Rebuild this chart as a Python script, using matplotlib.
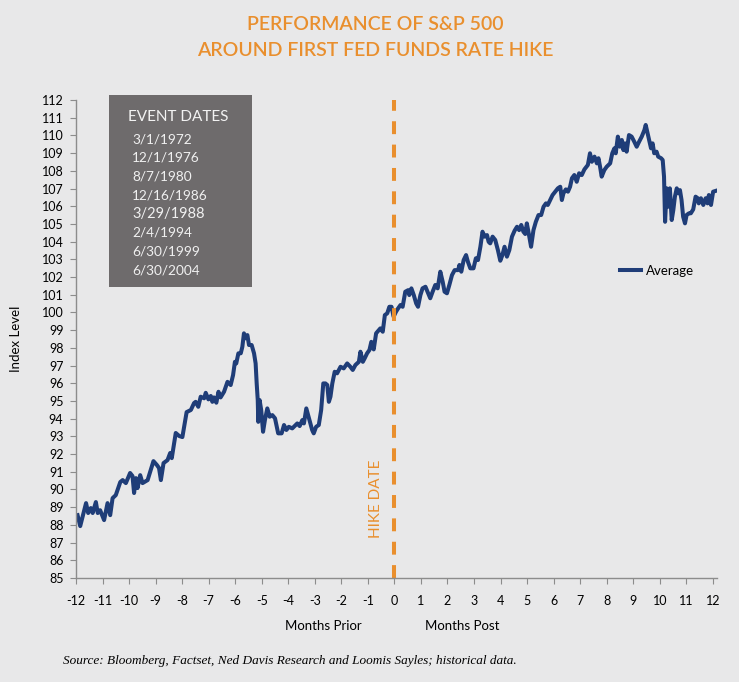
import matplotlib
matplotlib.use("Agg")
import matplotlib.pyplot as plt
from matplotlib.patches import Rectangle

plt.rcParams['font.family'] = ['Lato', 'DejaVu Sans']

# ---- data (months relative to first hike, index level) ----
months = [
    -11.94, -11.84, -11.62, -11.54, -11.44, -11.37, -11.25, -11.18, -11.09, -10.94,
    -10.81, -10.71, -10.62, -10.50, -10.33, -10.24, -10.12, -9.96, -9.87, -9.81,
    -9.74, -9.68, -9.58, -9.49, -9.30, -9.08, -8.95, -8.87, -8.80, -8.70,
    -8.55, -8.45, -8.39, -8.24, -8.11, -7.99, -7.83, -7.67, -7.55,
    -7.49, -7.39, -7.30, -7.17, -7.11, -7.01, -6.92, -6.86, -6.80, -6.71,
    -6.63, -6.55, -6.42, -6.29, -6.17, -6.08, -6.01, -5.96, -5.88, -5.79,
    -5.73, -5.67, -5.61, -5.54, -5.48, -5.38, -5.29, -5.23, -5.19, -5.15,
    -5.13, -5.08, -5.02, -4.95, -4.88, -4.79, -4.70, -4.60, -4.50, -4.38,
    -4.25, -4.16, -4.07, -3.98, -3.85, -3.72, -3.66, -3.57, -3.47, -3.41,
    -3.32, -3.22, -3.10, -3.04, -2.95, -2.85, -2.76, -2.68,
    -2.60, -2.53, -2.47, -2.41, -2.34, -2.25, -2.16, -2.03, -1.91, -1.78,
    -1.66, -1.57, -1.47, -1.34, -1.28, -1.19, -1.12, -1.03, -0.94, -0.87,
    -0.78, -0.69, -0.59, -0.53, -0.44, -0.36, -0.27, -0.19, -0.11, -0.03,
    0.06, 0.14, 0.23, 0.31, 0.41, 0.52, 0.56, 0.64, 0.73, 0.82,
    0.89, 0.98, 1.06, 1.17, 1.27, 1.35, 1.44, 1.54, 1.63, 1.73,
    1.82, 1.89, 1.98, 2.07, 2.17, 2.27,
    2.40, 2.45, 2.52, 2.61, 2.70, 2.77, 2.86, 2.98, 3.07, 3.15,
    3.24, 3.32, 3.40, 3.49, 3.55, 3.61, 3.70, 3.80, 3.90, 3.99,
    4.07, 4.15, 4.24, 4.33, 4.43, 4.53, 4.62, 4.70, 4.78, 4.86,
    4.93, 4.99, 5.05, 5.15, 5.24, 5.33, 5.43, 5.53, 5.62, 5.71,
    5.78, 5.87, 5.96, 6.06, 6.16, 6.25, 6.31, 6.37, 6.46, 6.54,
    6.62, 6.69, 6.78, 6.87, 6.96, 7.06, 7.16,
    7.29, 7.37, 7.44, 7.54, 7.63, 7.69, 7.75, 7.81, 7.91, 8.00,
    8.13, 8.21, 8.29, 8.34, 8.42, 8.50, 8.57, 8.63, 8.69, 8.75,
    8.84, 8.94, 9.04, 9.13, 9.22, 9.32, 9.42, 9.47, 9.54, 9.61,
    9.67, 9.73, 9.79, 9.88, 9.94, 10.05, 10.11, 10.16, 10.20, 10.26,
    10.32, 10.38, 10.45, 10.51, 10.57, 10.64, 10.70, 10.76, 10.82, 10.88,
    10.95, 11.01, 11.10, 11.17, 11.26, 11.35, 11.43, 11.47, 11.55, 11.64,
    11.73, 11.80, 11.85, 11.93, 12.01, 12.14,
]
average = [
    88.55, 87.93, 89.23, 88.67, 88.95, 88.67, 89.29, 88.67, 88.83, 88.27,
    89.23, 88.55, 89.51, 89.68, 90.42, 90.53, 90.36, 90.93, 90.76, 89.80,
    90.64, 90.08, 90.81, 90.36, 90.53, 91.60, 91.38, 91.21, 90.53, 91.49,
    91.66, 92.06, 91.77, 93.19, 93.02, 92.96, 94.37, 94.49, 94.88,
    94.95, 94.67, 95.24, 95.15, 95.46, 95.09, 95.28, 94.95, 95.20, 94.90,
    95.52, 95.20, 95.52, 96.08, 95.90, 96.46, 97.21, 97.12, 97.69, 97.69,
    98.06, 98.82, 98.54, 98.72, 98.16, 98.16, 97.69, 97.12, 95.99, 95.05,
    93.82, 95.05, 94.49, 93.26, 93.92, 94.58, 94.11, 94.20, 94.02, 93.17,
    93.17, 93.64, 93.36, 93.54, 93.45, 93.64, 93.73, 93.58, 93.92, 93.73,
    94.58, 94.02, 93.36, 93.17, 93.54, 93.64, 94.49, 95.99,
    95.99, 95.90, 94.95, 95.24, 95.99, 96.65, 96.56, 96.93, 96.84, 97.12,
    96.93, 96.75, 97.03, 97.21, 97.78, 97.21, 97.41, 97.69, 97.88, 98.34,
    97.91, 98.82, 99.00, 99.10, 98.91, 99.85, 99.95, 100.32, 100.32, 99.76,
    100.04, 100.23, 100.42, 100.32, 101.17, 101.26, 100.98, 101.36, 100.98, 100.51,
    100.32, 100.98, 101.36, 101.45, 101.08, 100.80, 101.17, 101.55, 101.36, 102.30,
    101.73, 101.17, 101.08, 101.55, 102.11, 102.39,
    102.39, 102.68, 102.30, 102.96, 103.24, 102.86, 102.49, 102.49, 103.06, 102.96,
    103.71, 104.56, 104.28, 104.37, 103.99, 103.90, 104.28, 104.09, 103.52, 102.92,
    103.24, 103.71, 103.15, 103.52, 104.28, 104.62, 104.84, 104.65, 104.94, 104.56,
    104.43, 105.03, 104.56, 103.71, 104.65, 105.12, 105.50, 105.50, 105.97, 106.16,
    106.07, 106.35, 106.63, 106.82, 107.01, 107.10, 106.35, 106.73, 106.95, 106.82,
    107.10, 107.58, 107.76, 107.38, 107.86, 107.76, 108.08,
    108.33, 108.99, 108.51, 108.80, 108.42, 108.71, 108.23, 107.67, 108.04, 108.23,
    108.42, 108.99, 109.27, 108.99, 109.93, 109.36, 109.74, 109.17, 109.55, 109.08,
    110.02, 109.93, 109.64, 109.36, 109.64, 109.93, 110.30, 110.59, 110.12, 109.64,
    109.27, 109.55, 108.99, 109.08, 108.80, 108.71, 108.61, 107.67, 105.12, 107.01,
    105.97, 107.01, 105.22, 105.78, 106.54, 107.01, 106.73, 106.91, 106.35, 105.41,
    105.03, 105.50, 105.60, 105.60, 105.82, 106.54, 106.45, 106.16, 106.45, 106.07,
    106.45, 106.16, 106.63, 106.07, 106.82, 106.88,
]

x_ticks = list(range(-12, 13))
y_ticks = list(range(85, 113))
event_dates = ["3/1/1972", "12/1/1976", "8/7/1980", "12/16/1986",
               "3/29/1988", "2/4/1994", "6/30/1999", "6/30/2004"]
hike_month = 0

BG = "#e8e8e9"
NAVY = "#1f3d78"
ORANGE = "#e98f2e"
GRAYBOX = "#6e6b6c"
SPINE = "#8c8c8c"

fig = plt.figure(figsize=(7.39, 6.82), dpi=100, facecolor=BG)
ax = fig.add_axes([0.1028, 0.1525, 0.8672, 0.7009])
ax.set_facecolor(BG)

ax.plot(months, average, color=NAVY, lw=2.9, solid_joinstyle='round', label="Average")
ax.axvline(hike_month, color=ORANGE, lw=2.9, dashes=(3.2, 2.6))

ax.set_xlim(-12, 12.15)
ax.set_ylim(85, 112)
ax.set_xticks(x_ticks)
ax.set_xticklabels([str(t) for t in x_ticks])
ax.set_yticks(y_ticks)
ax.set_yticklabels([str(t) for t in y_ticks])

for s in ['top', 'right']:
    ax.spines[s].set_visible(False)
for s in ['left', 'bottom']:
    ax.spines[s].set_color(SPINE)
    ax.spines[s].set_linewidth(1.0)
ax.tick_params(axis='both', colors=SPINE, labelcolor='black', labelsize=9,
               length=4, width=0.8, direction='out')
ax.tick_params(axis='x', pad=8)
ax.tick_params(axis='y', pad=5)

ax.set_ylabel("Index Level", fontsize=9.5, labelpad=14)

# x sub-labels
fig.text(323 / 739, 1 - 626 / 682, "Months Prior", ha='center', va='center', fontsize=9.5)
fig.text(462 / 739, 1 - 626 / 682, "Months Post", ha='center', va='center', fontsize=9.5)

# Hike date label
ax.text(-0.68, 89.5, "HIKE DATE", rotation=90, color=ORANGE, fontsize=11,
        ha='center', va='center')

# Title
fig.text(0.5075, 1 - 25 / 682, "PERFORMANCE OF S&P 500", ha='center', va='center',
         fontsize=14, color=ORANGE, fontweight='semibold')
fig.text(0.5075, 1 - 51 / 682, "AROUND FIRST FED FUNDS RATE HIKE", ha='center', va='center',
         fontsize=14, color=ORANGE, fontweight='semibold')

# Event dates box
box = Rectangle((109 / 739, 1 - 287 / 682), (252 - 109) / 739, (287 - 95) / 682,
                transform=fig.transFigure, facecolor=GRAYBOX, edgecolor='none', zorder=3)
fig.patches.append(box)
fig.text(178 / 739, 1 - 117 / 682, "EVENT DATES", ha='center', va='center',
         fontsize=11, color='#f2f2f2', zorder=4)
for i, d in enumerate(event_dates):
    fig.text(132 / 739, 1 - (139 + i * 18.8) / 682, d, ha='left', va='center',
             fontsize=10.5 if d == "3/29/1988" else 9.8, color='#f0f0f0', zorder=4)

# Legend
leg = ax.legend(loc='center left', bbox_to_anchor=(0.83, 0.642), frameon=False,
                fontsize=9.5, handlelength=1.6, handletextpad=0.4)

# Source
fig.text(63 / 739, 1 - 661 / 682,
         "Source: Bloomberg, Factset, Ned Davis Research and Loomis Sayles; historical data.",
         fontsize=9.5, style='italic', family=['Liberation Serif', 'DejaVu Serif'],
         ha='left', va='center')

fig.savefig("out.png", dpi=100, facecolor=BG)
